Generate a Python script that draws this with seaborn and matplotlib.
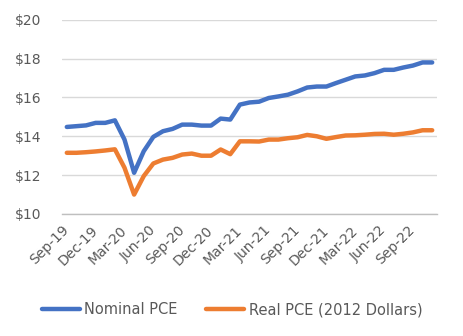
import matplotlib
matplotlib.use("Agg")
import matplotlib.pyplot as plt
import seaborn as sns
import pandas as pd
import numpy as np

months = ["Sep-19","Oct-19","Nov-19","Dec-19","Jan-20","Feb-20","Mar-20","Apr-20","May-20",
          "Jun-20","Jul-20","Aug-20","Sep-20","Oct-20","Nov-20","Dec-20","Jan-21","Feb-21",
          "Mar-21","Apr-21","May-21","Jun-21","Jul-21","Aug-21","Sep-21","Oct-21","Nov-21",
          "Dec-21","Jan-22","Feb-22","Mar-22","Apr-22","May-22","Jun-22","Jul-22","Aug-22",
          "Sep-22","Oct-22","Nov-22"]
nominal = [14.48, 14.52, 14.56, 14.69, 14.69, 14.82, 13.83, 12.12, 13.23,
           13.97, 14.26, 14.38, 14.60, 14.60, 14.55, 14.55, 14.91, 14.86,
           15.63, 15.74, 15.78, 15.97, 16.05, 16.14, 16.31, 16.51, 16.56,
           16.56, 16.74, 16.91, 17.08, 17.13, 17.25, 17.42, 17.42, 17.54,
           17.64, 17.80, 17.80]
real = [13.15, 13.15, 13.18, 13.22, 13.27, 13.33, 12.38, 11.00, 11.95,
        12.60, 12.80, 12.89, 13.06, 13.11, 13.00, 13.00, 13.32, 13.08,
        13.74, 13.74, 13.73, 13.83, 13.83, 13.90, 13.95, 14.07, 14.00,
        13.87, 13.96, 14.04, 14.05, 14.08, 14.12, 14.13, 14.08, 14.13,
        14.20, 14.31, 14.31]
series_names = ["Nominal PCE", "Real PCE (2012 Dollars)"]
y_ticks = [10, 12, 14, 16, 18, 20]

idx = np.arange(len(months))
df = pd.DataFrame({
    "idx": np.concatenate([idx, idx]),
    "value": nominal + real,
    "series": [series_names[0]] * len(months) + [series_names[1]] * len(months),
})

sns.set_theme(style="white")
plt.rcParams['font.family'] = ['DejaVu Sans']

fig = plt.figure(figsize=(4.64, 3.36), dpi=100)
ax = fig.add_axes([62/464, 1-214/336, 375/464, 194.3/336])

sns.lineplot(data=df, x="idx", y="value", hue="series",
             palette=["#4472C4", "#ED7D31"], linewidth=3.2, ax=ax,
             solid_capstyle="round", legend=True)

ax.set_xlim(-0.5, len(months) - 0.5)
ax.set_ylim(10, 20)
ax.set_yticks(y_ticks)
ax.set_yticklabels([f"${v}" for v in y_ticks])
ax.grid(axis="y", color="#D9D9D9", linewidth=1.0)
ax.set_axisbelow(True)

# x axis: tick marks between categories, labels every 3 months
ax.set_xticks(np.arange(-0.5, len(months), 3))
ax.set_xticklabels([])
ax.set_xticks(idx[::3], minor=True)
ax.set_xticklabels([months[i] for i in idx[::3]], minor=True,
                   rotation=45, ha="right", va="center", rotation_mode="anchor")
ax.tick_params(axis="x", which="major", length=5, width=1, color="#BFBFBF", direction="out")
ax.tick_params(axis="x", which="minor", length=0, pad=10, labelsize=10, labelcolor="#595959")
ax.tick_params(axis="y", length=0, pad=15, labelsize=10, labelcolor="#595959")

for s in ["top", "right", "left"]:
    ax.spines[s].set_visible(False)
ax.spines["bottom"].set_color("#BFBFBF")
ax.spines["bottom"].set_linewidth(1)
ax.set_xlabel("")
ax.set_ylabel("")

handles, labels = ax.get_legend_handles_labels()
ax.get_legend().remove()
leg = fig.legend(handles, labels, loc="center", bbox_to_anchor=(0.5, 1-310/336),
                 ncol=2, frameon=False, fontsize=10.5, handlelength=2.6,
                 handletextpad=0.3, columnspacing=2.0)
for t in leg.get_texts():
    t.set_color("#595959")
for h in leg.get_lines():
    h.set_linewidth(3.2)
    h.set_solid_capstyle("round")

fig.savefig("out.png", dpi=100)
